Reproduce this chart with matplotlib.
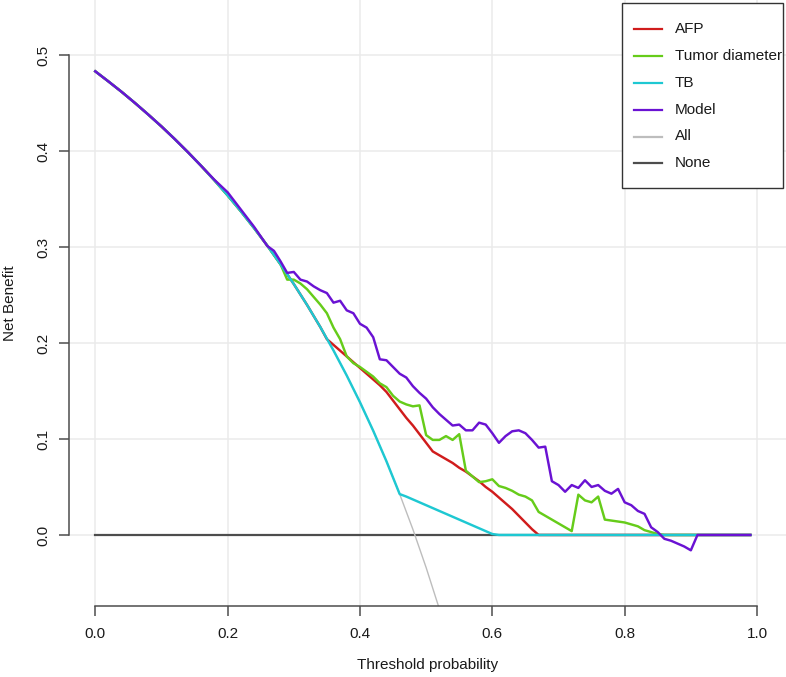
import matplotlib
matplotlib.use('Agg')
import matplotlib.pyplot as plt
from matplotlib.patches import Rectangle
from matplotlib.lines import Line2D

plt.rcParams['font.family'] = ['Liberation Sans', 'DejaVu Sans']

# ---------------- data ----------------
x_ticks = [0.0, 0.2, 0.4, 0.6, 0.8, 1.0]
x_tick_labels = ['0.0', '0.2', '0.4', '0.6', '0.8', '1.0']
y_ticks = [0.0, 0.1, 0.2, 0.3, 0.4, 0.5]
y_tick_labels = ['0.0', '0.1', '0.2', '0.3', '0.4', '0.5']

series_names = ['AFP', 'Tumor diameter', 'TB', 'Model', 'All', 'None']
series_colors = ['#D01C1C', '#66CC1A', '#1EC8D2', '#6A12D3', '#BDBDBD', '#4D4D4D']

all_t = [0.00, 0.02, 0.04, 0.06, 0.08, 0.10, 0.12, 0.14, 0.16, 0.18, 0.20, 0.22, 0.24,
         0.26, 0.28, 0.30, 0.32, 0.34, 0.36, 0.38, 0.40, 0.42, 0.44, 0.46, 0.48, 0.50, 0.52]
all_nb = [0.483, 0.4724, 0.4615, 0.4500, 0.4380, 0.4256, 0.4125, 0.3988, 0.3845, 0.3695,
          0.3538, 0.3372, 0.3197, 0.3014, 0.2819, 0.2614, 0.2397, 0.2167, 0.1922, 0.1661,
          0.1383, 0.1086, 0.0768, 0.0426, 0.0058, -0.0340, -0.0771]

none_t = [0.00, 0.99]
none_nb = [0.0, 0.0]

afp_t = [0.00, 0.02, 0.04, 0.06, 0.08, 0.10, 0.12, 0.14, 0.16, 0.18, 0.20, 0.22, 0.24,
         0.26, 0.28, 0.30, 0.32, 0.34,
         0.35, 0.36, 0.37, 0.38, 0.39, 0.40, 0.41, 0.42, 0.43, 0.44, 0.45, 0.46, 0.47,
         0.48, 0.49, 0.50, 0.51, 0.52, 0.53, 0.54, 0.55, 0.56, 0.57, 0.58, 0.59, 0.60,
         0.61, 0.62, 0.63, 0.64, 0.65, 0.66, 0.67, 0.99]
afp_nb = [0.483, 0.4724, 0.4615, 0.4500, 0.4380, 0.4256, 0.4125, 0.3988, 0.3845, 0.3695,
          0.3538, 0.3372, 0.3197, 0.3014, 0.2819, 0.2614, 0.2397, 0.2167,
          0.204, 0.198, 0.192, 0.186, 0.180, 0.174, 0.168, 0.162, 0.156, 0.149, 0.140,
          0.131, 0.122, 0.114, 0.105, 0.096, 0.087, 0.083, 0.079, 0.075, 0.070, 0.066,
          0.061, 0.056, 0.050, 0.045, 0.039, 0.033, 0.027, 0.020, 0.013, 0.006, 0.0, 0.0]

tum_t = [0.00, 0.02, 0.04, 0.06, 0.08, 0.10, 0.12, 0.14, 0.16, 0.18, 0.20, 0.22, 0.24,
         0.26, 0.28,
         0.29, 0.30, 0.31, 0.32, 0.33, 0.34, 0.35, 0.36, 0.37, 0.38, 0.39,
         0.40, 0.41, 0.42, 0.43, 0.44, 0.45, 0.46, 0.47, 0.48, 0.49,
         0.50, 0.51, 0.52, 0.53, 0.54, 0.55, 0.56, 0.57, 0.58, 0.59,
         0.60, 0.61, 0.62, 0.63, 0.64, 0.65, 0.66, 0.67, 0.68, 0.69,
         0.70, 0.71, 0.72, 0.73, 0.74, 0.75, 0.76, 0.77, 0.78, 0.79,
         0.80, 0.81, 0.82, 0.83, 0.84, 0.85, 0.86, 0.99]
tum_nb = [0.483, 0.4724, 0.4615, 0.4500, 0.4380, 0.4256, 0.4125, 0.3988, 0.3845, 0.3695,
          0.3538, 0.3372, 0.3197, 0.3014, 0.2819,
          0.266, 0.266, 0.262, 0.256, 0.248, 0.240, 0.231, 0.216, 0.204, 0.186, 0.179,
          0.175, 0.170, 0.165, 0.158, 0.154, 0.145, 0.139, 0.136, 0.134, 0.135,
          0.104, 0.099, 0.099, 0.103, 0.099, 0.105, 0.067, 0.061, 0.055, 0.056,
          0.058, 0.051, 0.049, 0.046, 0.042, 0.040, 0.036, 0.024, 0.020, 0.016,
          0.012, 0.008, 0.004, 0.042, 0.036, 0.034, 0.040, 0.016, 0.015, 0.014,
          0.013, 0.011, 0.009, 0.005, 0.003, 0.001, 0.0, 0.0]

tb_t = [0.00, 0.02, 0.04, 0.06, 0.08, 0.10, 0.12, 0.14, 0.16, 0.18, 0.20, 0.22, 0.24,
        0.26, 0.28, 0.30, 0.32, 0.34, 0.36, 0.38, 0.40, 0.42, 0.44, 0.46,
        0.47, 0.48, 0.49, 0.50, 0.51, 0.52, 0.53, 0.54, 0.55, 0.56, 0.57, 0.58, 0.59,
        0.60, 0.61, 0.99]
tb_nb = [0.483, 0.4724, 0.4615, 0.4500, 0.4380, 0.4256, 0.4125, 0.3988, 0.3845, 0.3695,
         0.3538, 0.3372, 0.3197, 0.3014, 0.2819, 0.2614, 0.2397, 0.2167, 0.1922, 0.1661,
         0.1383, 0.1086, 0.0768, 0.0426,
         0.040, 0.037, 0.034, 0.031, 0.028, 0.025, 0.022, 0.019, 0.016, 0.013, 0.010,
         0.007, 0.004, 0.001, 0.0, 0.0]

mod_t = [0.00, 0.02, 0.04, 0.06, 0.08, 0.10, 0.12, 0.14, 0.16, 0.18, 0.20, 0.22, 0.24,
         0.26, 0.27, 0.28, 0.29,
         0.30, 0.31, 0.32, 0.33, 0.34, 0.35, 0.36, 0.37, 0.38, 0.39,
         0.40, 0.41, 0.42, 0.43, 0.44, 0.45, 0.46, 0.47, 0.48, 0.49,
         0.50, 0.51, 0.52, 0.53, 0.54, 0.55, 0.56, 0.57, 0.58, 0.59,
         0.60, 0.61, 0.62, 0.63, 0.64, 0.65, 0.66, 0.67, 0.68, 0.69,
         0.70, 0.71, 0.72, 0.73, 0.74, 0.75, 0.76, 0.77, 0.78, 0.79,
         0.80, 0.81, 0.82, 0.83, 0.84, 0.85, 0.86, 0.87, 0.88, 0.89,
         0.90, 0.91, 0.99]
mod_nb = [0.483, 0.4724, 0.4615, 0.4500, 0.4380, 0.4256, 0.4125, 0.3988, 0.3845, 0.3700,
          0.3570, 0.3390, 0.3210,
          0.301, 0.296, 0.285, 0.273,
          0.274, 0.266, 0.264, 0.259, 0.255, 0.252, 0.242, 0.244, 0.234, 0.231,
          0.220, 0.216, 0.206, 0.183, 0.182, 0.175, 0.168, 0.164, 0.155, 0.148,
          0.142, 0.133, 0.126, 0.120, 0.114, 0.115, 0.109, 0.109, 0.117, 0.115,
          0.106, 0.096, 0.103, 0.108, 0.109, 0.106, 0.099, 0.091, 0.092, 0.056,
          0.052, 0.045, 0.052, 0.049, 0.057, 0.050, 0.052, 0.046, 0.043, 0.048,
          0.034, 0.031, 0.025, 0.022, 0.008, 0.003, -0.004, -0.006, -0.009, -0.012,
          -0.016, 0.0, 0.0]

# ---------------- figure ----------------
W, H = 786, 677
fig = plt.figure(figsize=(W / 100, H / 100), dpi=100)
ax = fig.add_axes([69 / W, (H - 606) / H, (W - 69) / W, 606 / H])
ax.set_xlim(-0.0397, 1.0438)
ax.set_ylim(-0.074, 0.5573)

ax.set_xticks(x_ticks)
ax.set_xticklabels(x_tick_labels)
ax.set_yticks(y_ticks)
ax.set_yticklabels(y_tick_labels, rotation=90, va='center')

ax.grid(True, color='#EBEBEB', linewidth=1.1)
ax.set_axisbelow(True)

for s in ['top', 'right']:
    ax.spines[s].set_visible(False)
ax.spines['left'].set_bounds(0.0, 0.5)
ax.spines['bottom'].set_bounds(0.0, 1.0)
for s in ['left', 'bottom']:
    ax.spines[s].set_color('#4d4d4d')
    ax.spines[s].set_linewidth(1.1)

ax.tick_params(direction='out', length=7, width=1.1, color='#4d4d4d',
               labelsize=11, labelcolor='#1a1a1a')
ax.tick_params(axis='x', pad=8)
ax.tick_params(axis='y', pad=6.5)

# curves
LW = 1.75
ax.plot(none_t, none_nb, color=series_colors[5], lw=1.6, zorder=2)
ax.plot(all_t, all_nb, color=series_colors[4], lw=1.0, zorder=2)
ax.plot(afp_t, afp_nb, color=series_colors[0], lw=LW, zorder=3)
ax.plot(tum_t, tum_nb, color=series_colors[1], lw=LW, zorder=3)
ax.plot(tb_t, tb_nb, color=series_colors[2], lw=LW, zorder=3)
ax.plot(mod_t, mod_nb, color=series_colors[3], lw=LW, zorder=3)

# axis titles
fig.text(427.5 / W, 1 - 665 / H, 'Threshold probability', ha='center', va='center',
         fontsize=11, color='#1a1a1a')
fig.text(10.5 / W, 1 - 303 / H, 'Net Benefit', ha='center', va='center',
         rotation=90, fontsize=11, color='#1a1a1a')

# legend (R style box)
fx = lambda px: px / W
fy = lambda py: 1 - py / H
box = Rectangle((fx(622), fy(188)), fx(783) - fx(622), fy(3) - fy(188),
                transform=fig.transFigure, facecolor='white', edgecolor='#333333',
                linewidth=1.0, zorder=10)
fig.add_artist(box)
row0, step = 29.3, 26.8
for i, (name, col) in enumerate(zip(series_names, series_colors)):
    yy = fy(row0 + i * step)
    ln = Line2D([fx(634), fx(662)], [yy, yy], transform=fig.transFigure,
                color=col, lw=1.6, zorder=11)
    fig.add_artist(ln)
    fig.text(fx(675), yy, name, ha='left', va='center', fontsize=11,
             color='#1a1a1a', zorder=12)

fig.savefig('out.png', dpi=100)
